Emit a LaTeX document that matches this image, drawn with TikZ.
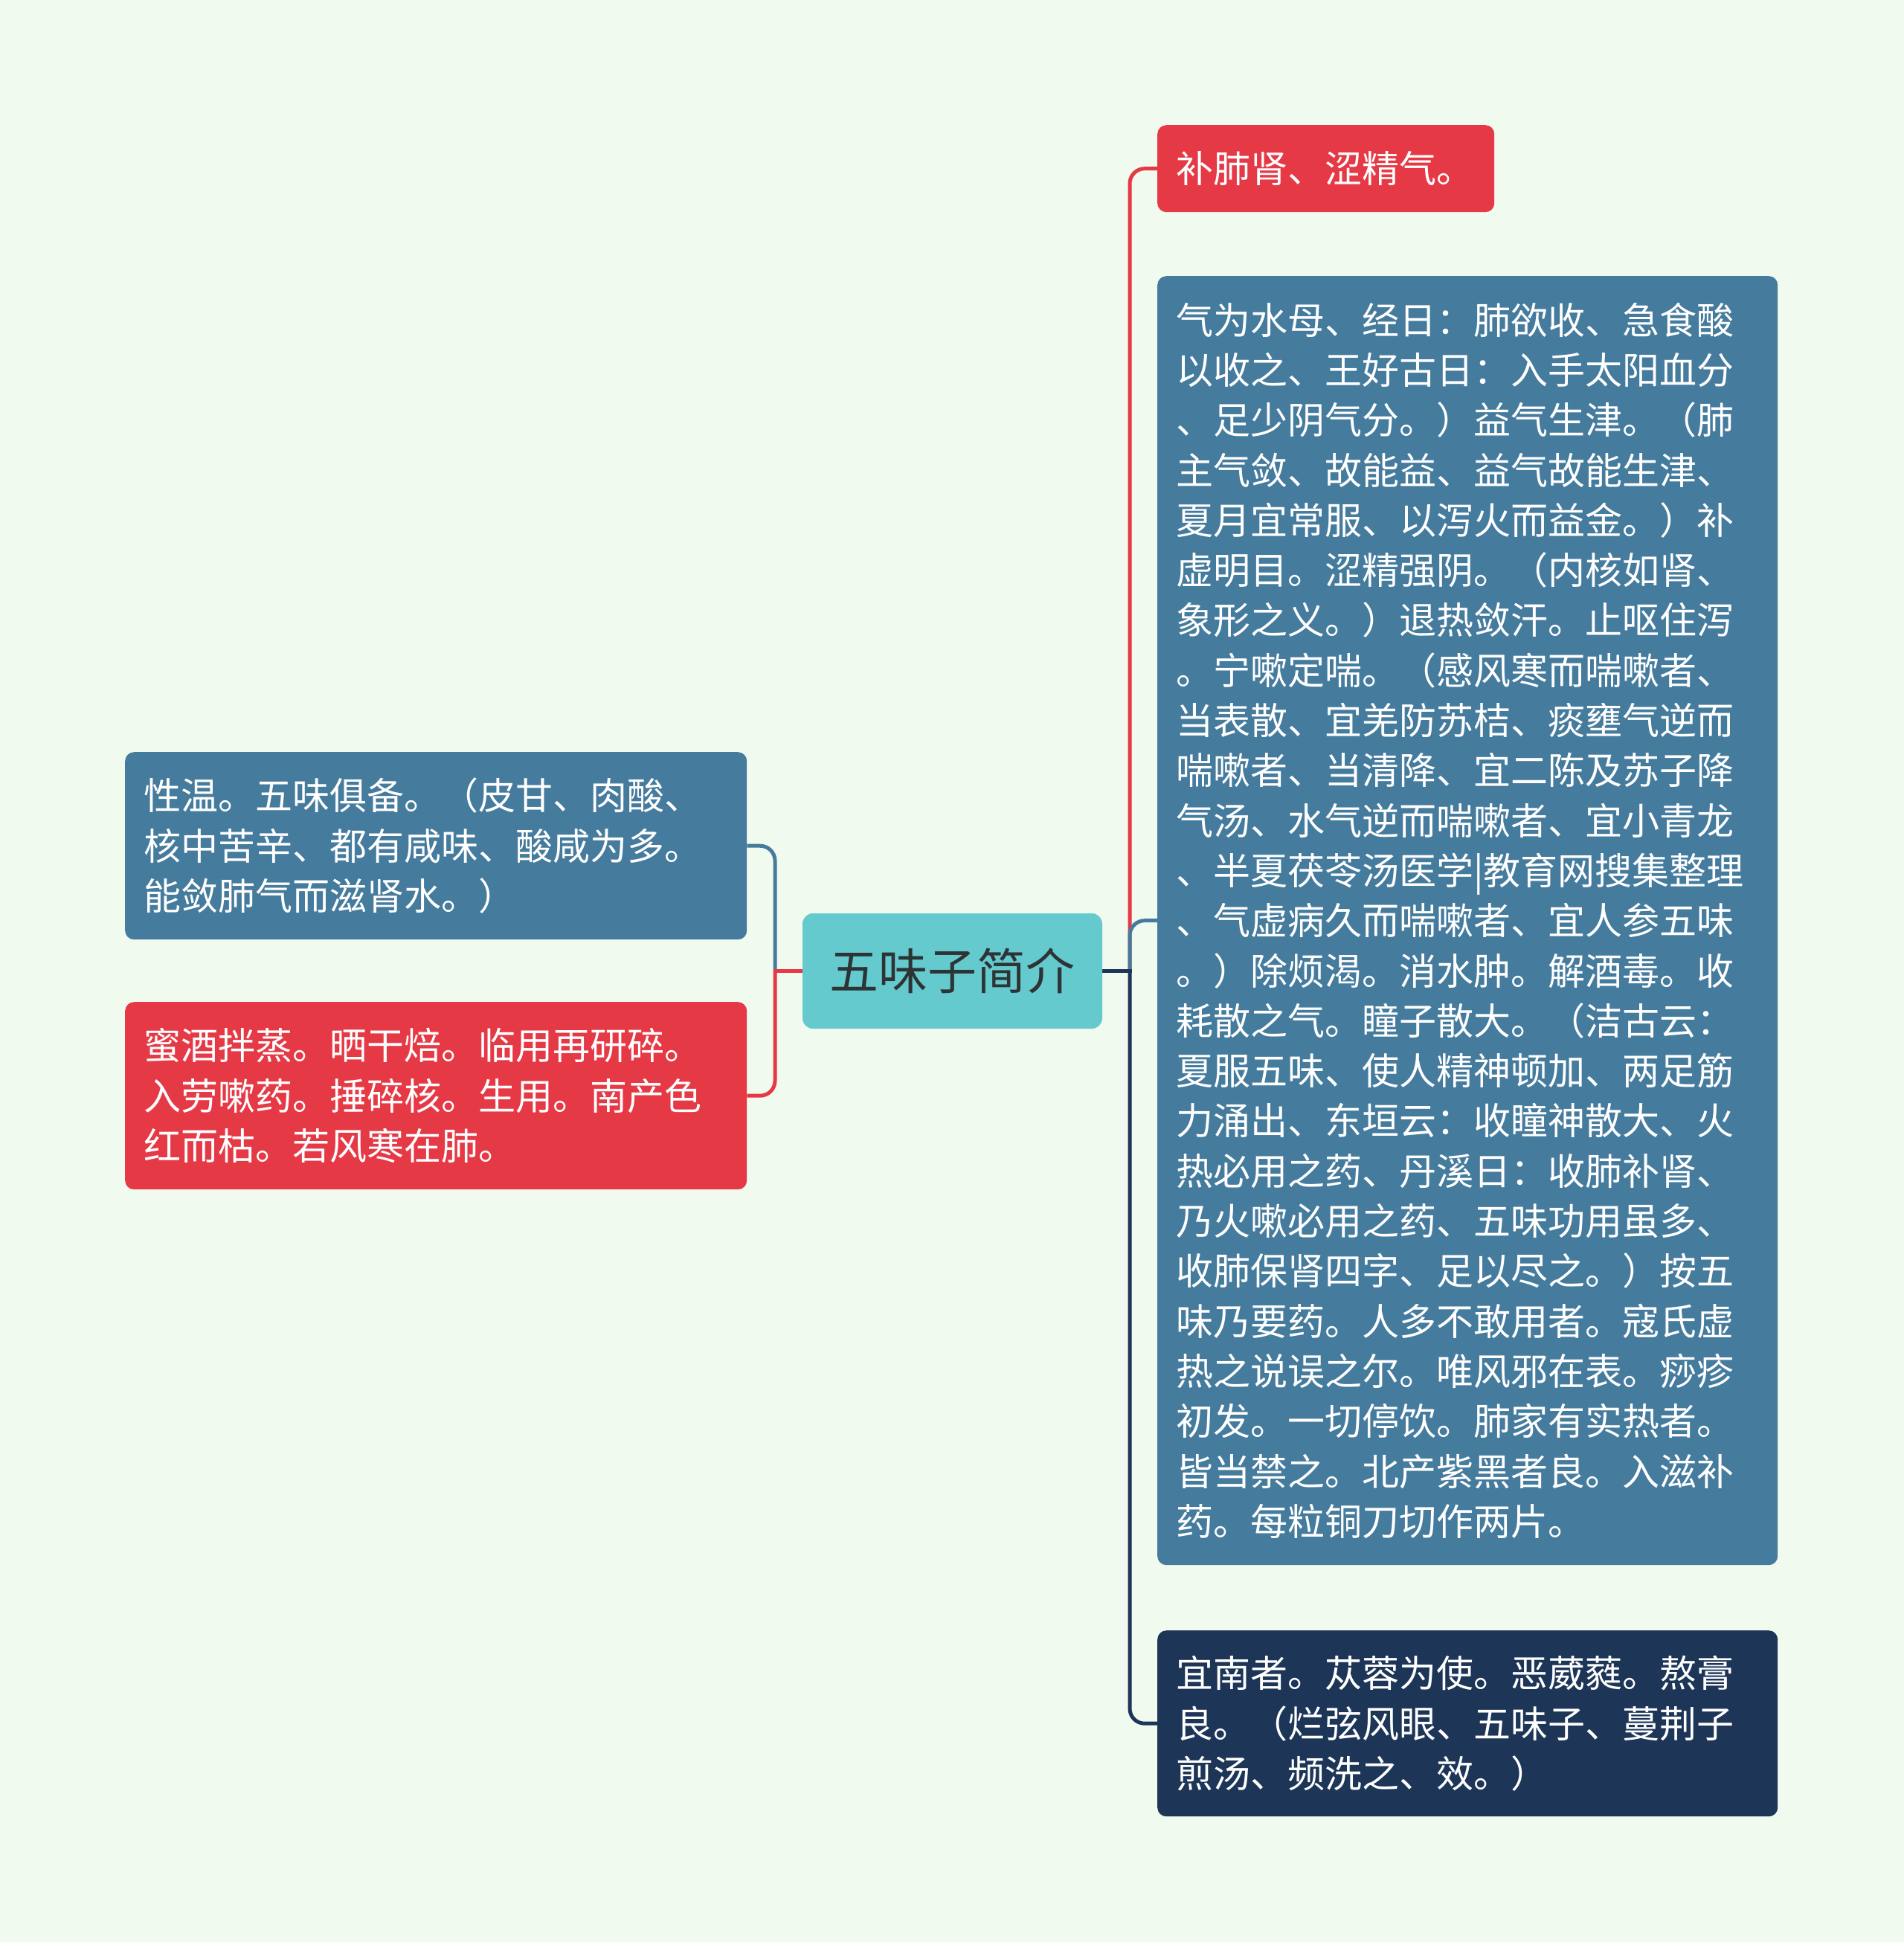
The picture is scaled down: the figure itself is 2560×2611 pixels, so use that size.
\documentclass[tikz,border=0pt]{standalone}
\usepackage{fontspec}
\usepackage{tikz}
\usepackage{xcolor}
\usetikzlibrary{backgrounds}
\newfontfamily\cjk{Noto Sans CJK SC}
\definecolor{bgmint}{HTML}{F1FAEE}
\definecolor{leafred}{HTML}{E63946}
\definecolor{leafblue}{HTML}{457B9D}
\definecolor{leafnavy}{HTML}{1D3557}
\definecolor{rootteal}{HTML}{64CACE}
\definecolor{roottext}{HTML}{2E3436}
\tikzset{
	leaf/.style={rounded corners=12pt, text=white, anchor=north west, align=left,
		inner xsep=25pt, inner ysep=0pt, font=\cjk\fontsize{50}{67.3}\selectfont},
	branch/.style={line width=5pt, rounded corners=20pt},
}
\begin{document}
\begin{tikzpicture}[x=1pt,y=-1pt]
	\node[rounded corners=14pt, fill=rootteal, text=roottext, minimum width=403pt, minimum height=155pt,
		inner sep=0pt, font=\cjk\fontsize{66}{80}\selectfont] (root) at (1280.5,1305.5) {五味子简介};

	\node[leaf, fill=leafred, text width=403pt, minimum height=117pt] (bufei) at (1556,168) {补肺肾、涩精气。};
	\node[leaf, fill=leafblue, text width=784pt, minimum height=1733pt] (qiwei) at (1556,371)
	{气为水母、经日：肺欲收、急食酸\\
	以收之、王好古日：入手太阳血分\\
	、足少阴气分。）益气生津。（肺\\
	主气敛、故能益、益气故能生津、\\
	夏月宜常服、以泻火而益金。）补\\
	虚明目。涩精强阴。（内核如肾、\\
	象形之义。）退热敛汗。止呕住泻\\
	。宁嗽定喘。（感风寒而喘嗽者、\\
	当表散、宜羌防苏桔、痰壅气逆而\\
	喘嗽者、当清降、宜二陈及苏子降\\
	气汤、水气逆而喘嗽者、宜小青龙\\
	、半夏茯苓汤医学|教育网搜集整理\\
	、气虚病久而喘嗽者、宜人参五味\\
	。）除烦渴。消水肿。解酒毒。收\\
	耗散之气。瞳子散大。（洁古云：\\
	夏服五味、使人精神顿加、两足筋\\
	力涌出、东垣云：收瞳神散大、火\\
	热必用之药、丹溪日：收肺补肾、\\
	乃火嗽必用之药、五味功用虽多、\\
	收肺保肾四字、足以尽之。）按五\\
	味乃要药。人多不敢用者。寇氏虚\\
	热之说误之尔。唯风邪在表。痧疹\\
	初发。一切停饮。肺家有实热者。\\
	皆当禁之。北产紫黑者良。入滋补\\
	药。每粒铜刀切作两片。};
	\node[leaf, fill=leafnavy, text width=784pt, minimum height=250pt] (yinan) at (1556,2192)
	{宜南者。苁蓉为使。恶葳蕤。熬膏\\
	良。（烂弦风眼、五味子、蔓荆子\\
	煎汤、频洗之、效。）};

	\node[leaf, fill=leafblue, text width=786pt, minimum height=252pt] (xingwen) at (168,1011)
	{性温。五味俱备。（皮甘、肉酸、\\
	核中苦辛、都有咸味、酸咸为多。\\
	能敛肺气而滋肾水。）};
	\node[leaf, fill=leafred, text width=786pt, minimum height=252pt] (mijiu) at (168,1347)
	{蜜酒拌蒸。晒干焙。临用再研碎。\\
	入劳嗽药。捶碎核。生用。南产色\\
	红而枯。若风寒在肺。};

	\coordinate (rj) at (1519,1305.5);
	\coordinate (lj) at (1042,1305.5);

	\begin{scope}[on background layer]
		\fill[bgmint] (0,0) rectangle (2560,2611);
		\draw[branch, leafred] (rj) |- (bufei.west);
		\draw[branch, leafblue] (rj) |- (qiwei.west);
		\draw[branch, leafnavy] (rj) |- (yinan.west);
		\draw[line width=5pt, line cap=rect, leafnavy] (root.east) -- (rj);
		\draw[branch, leafblue] (lj) |- (xingwen.east);
		\draw[branch, leafred] (lj) |- (mijiu.east);
		\draw[line width=5pt, line cap=rect, leafred] (root.west) -- (lj);
	\end{scope}
\end{tikzpicture}
\end{document}
